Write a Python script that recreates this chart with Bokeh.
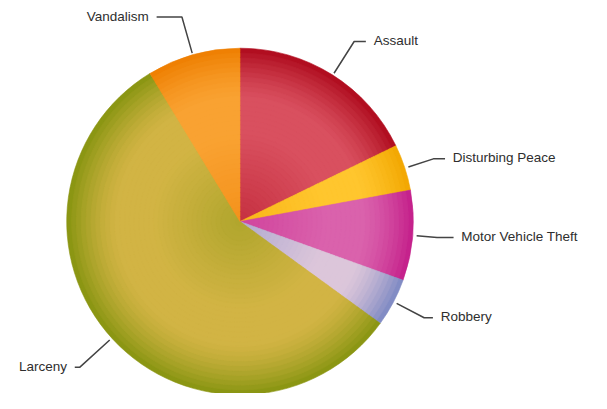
import math
from bokeh.plotting import figure
from bokeh.models import Range1d, ColumnDataSource
from bokeh.embed import file_html
from bokeh.resources import INLINE
from bokeh.core.properties import value

# ---- data ----
categories = ["Assault", "Disturbing Peace", "Motor Vehicle Theft", "Robbery", "Larceny", "Vandalism"]
shares = [17.8, 4.3, 8.4, 4.5, 56.3, 8.7]

# ---- styles ----
light = ["#D9505F", "#FFC62E", "#DA62AC", "#DCC6DA", "#D2B444", "#F9A232"]
dark = ["#AE0A1C", "#F2A600", "#C41E8A", "#7C88C2", "#869410", "#EE7E00"]
elbow_r = [221, 209, 203, 214, 224, 221]
tail_len = [12, 12, 17, 9, 5, 26]

W, H = 591, 393
REF_W, REF_H = 607, 409
CX, CY, R = 246, REF_H - 230, 178


def hex2rgb(h):
    h = h.lstrip("#")
    return tuple(int(h[i:i + 2], 16) for i in (0, 2, 4))


def blend(c1, c2, t):
    a, b = hex2rgb(c1), hex2rgb(c2)
    return "#%02x%02x%02x" % tuple(int(round(a[i] + (b[i] - a[i]) * t)) for i in range(3))


def profile(s):
    t = 0.0
    if s > 0.7:
        t = ((s - 0.7) / 0.3) ** 1.4
    if s < 0.5:
        t = max(t, 0.45 * (0.5 - s) / 0.5)
    return min(1.0, t)


p = figure(width=W, height=H, x_range=Range1d(0, REF_W), y_range=Range1d(0, REF_H),
           output_backend="svg", toolbar_location=None, x_axis_type=None, y_axis_type=None,
           min_border=0, min_border_left=0, min_border_right=0, min_border_top=0, min_border_bottom=0)
p.grid.visible = False
p.outline_line_color = None
p.background_fill_color = "white"

total = float(sum(shares))
starts, ends, mids = [], [], []
cum = 0.0
for v in shares:
    a_end = math.pi / 2 - 2 * math.pi * cum / total
    cum += v
    a_start = math.pi / 2 - 2 * math.pi * cum / total
    starts.append(a_start)
    ends.append(a_end)
    mids.append((a_start + a_end) / 2)

N = 36
xs, ys, rs, sa, ea, cols = [], [], [], [], [], []
for k in range(N - 1, -1, -1):
    s = (k + 0.5) / N
    t = profile(s)
    for i in range(len(shares)):
        xs.append(CX); ys.append(CY)
        rs.append(R * (k + 1) / N)
        sa.append(starts[i]); ea.append(ends[i])
        cols.append(blend(light[i], dark[i], t))

src = ColumnDataSource(dict(x=xs, y=ys, r=rs, sa=sa, ea=ea, c=cols))
p.wedge(x="x", y="y", radius="r", start_angle="sa", end_angle="ea", direction="anticlock",
        fill_color="c", line_color="c", line_width=0.6, source=src)

# ---- leader lines and labels ----
lx, ly, tx, ty, tt, ta = [], [], [], [], [], []
for i, name in enumerate(categories):
    m = mids[i]
    x0, y0 = CX + 182 * math.cos(m), CY + 182 * math.sin(m)
    x1, y1 = CX + elbow_r[i] * math.cos(m), CY + elbow_r[i] * math.sin(m)
    side = 1 if math.cos(m) >= 0 else -1
    x2 = x1 + side * tail_len[i]
    lx.append([x0, x1, x2]); ly.append([y0, y1, y1])
    tx.append(x2 + side * 8); ty.append(y1 + 1); tt.append(name)
    ta.append("left" if side > 0 else "right")

p.multi_line(xs=lx, ys=ly, line_color="#444444", line_width=1.5)
tsrc = ColumnDataSource(dict(x=tx, y=ty, text=tt, align=ta))
p.text(x="x", y="y", text="text", text_align="align", text_baseline="middle",
       text_font=value("Liberation Sans"), text_font_size="13.5px", text_color="#2e2e2e",
       source=tsrc)

open("out.html", "w").write(file_html(p, INLINE))
